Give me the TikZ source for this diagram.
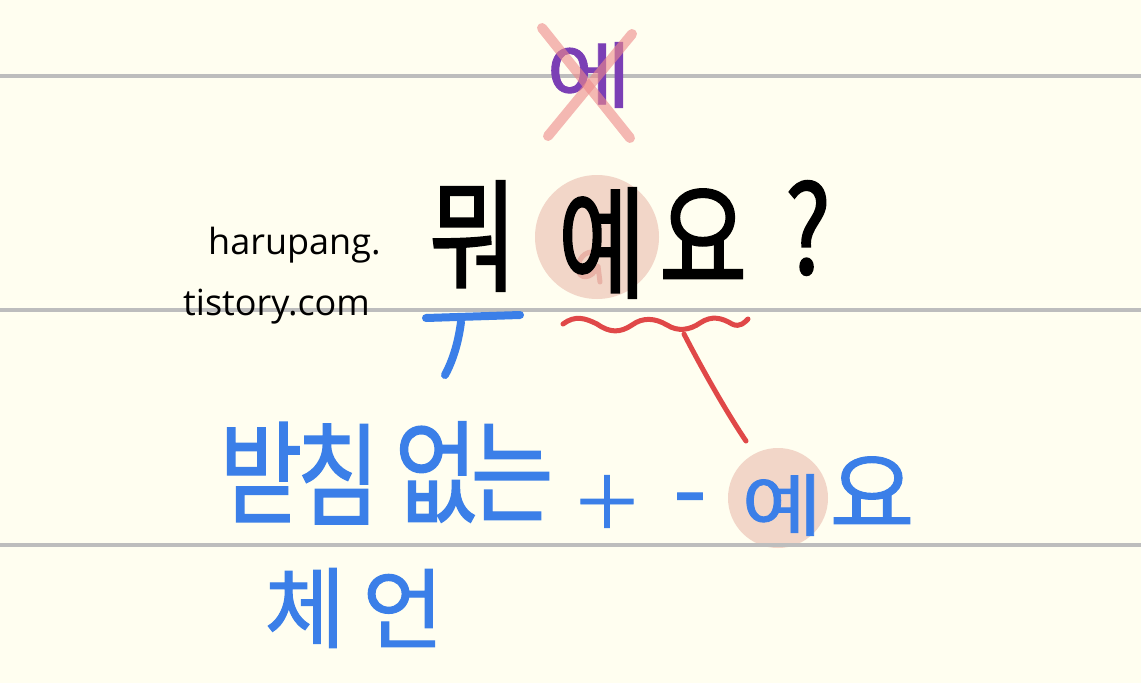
\documentclass[tikz,border=0pt]{standalone}
\usepackage{fontspec}
\newfontfamily\kr[FakeStretch=0.8,FakeBold=1.2]{Noto Sans CJK KR}
\newfontfamily\krn[FakeBold=1.2]{Noto Sans CJK KR}
\newfontfamily\krwide[FakeStretch=1.3,FakeBold=1.2]{Noto Sans CJK KR}
\newfontfamily\krb[FakeStretch=0.78,FakeBold=1.6]{Noto Sans CJK KR}
\newfontfamily\hand{Open Sans}
\definecolor{paper}{HTML}{FFFEF0}
\definecolor{rule}{HTML}{BDBDBD}
\definecolor{inkblue}{HTML}{3B7FE8}
\definecolor{inkred}{HTML}{E04848}
\definecolor{inkpurple}{HTML}{7B3FB5}
\definecolor{blush}{HTML}{F2D6C8}
\definecolor{blushdark}{HTML}{E8B2A6}
\definecolor{crossred}{HTML}{EE8A8A}
\tikzset{
  ruleline/.style={draw=rule,line width=4pt},
  blk/.style={inner sep=0pt,text=black,font=\krb\fontsize{122}{122}\selectfont},
  blu/.style={inner sep=0pt,text=inkblue,font=\kr\fontsize{112}{112}\selectfont},
  bluesm/.style={inner sep=0pt,text=inkblue,font=\krn\fontsize{88}{88}\selectfont},
  pen/.style={line width=#1,line cap=round,line join=round},
}
\begin{document}
\begin{tikzpicture}[x=1pt,y=-1pt]
\useasboundingbox (0,0) rectangle (1141,683);
\fill[paper] (0,0) rectangle (1141,683);
% blush circles
\fill[blush] (597,237) circle (62);
\fill[blush] (778,498) circle (50);
% faint doodle inside the circle
\draw[blushdark,pen=5pt] (598,254) .. controls (590,248) and (578,256) .. (578,268)
  .. controls (578,280) and (592,280) .. (598,266) -- (600,282);
% ruled lines
\draw[ruleline] (0,76) coordinate (r1a) -- (1141,76) coordinate (r1b);
\draw[ruleline] (0,310) coordinate (r2a) -- (1141,310) coordinate (r2b);
\draw[ruleline] (0,545) coordinate (r3a) -- (1141,545) coordinate (r3b);
% crossed out
\node[inner sep=0pt,text=inkpurple,font=\krwide\fontsize{72}{72}\selectfont] (e1) at (589,75) {에};
\draw[crossred,opacity=0.6,pen=10pt] (542,28) coordinate (xa) -- (630,138) coordinate (xb);
\draw[crossred,opacity=0.6,pen=10pt] (632,34) coordinate (xc) -- (548,136) coordinate (xd);
% main phrase
\node[blk] (mwo) at (473,236) {뭐};
\node[blk] (ye) at (602,243) {예};
\node[blk] (yo) at (703,236) {요};
\node[blk] (q) at (808,228) {?};
% watermark
\node[inner sep=0pt,font=\hand\fontsize{36}{36}\selectfont,anchor=west] (w1) at (208,245) {harupang.};
\node[inner sep=0pt,font=\hand\fontsize{36}{36}\selectfont,anchor=west] (w2) at (183,307) {tistory.com};
% blue mark under mwo
\coordinate (u1) at (426,318);
\coordinate (u2) at (520,315);
\coordinate (u3) at (461,322);
\coordinate (u4) at (445,375);
\draw[inkblue,pen=8pt] (u1) -- (u2);
\draw[inkblue,pen=8pt] (u3) .. controls (458,345) and (452,362) .. (u4);
% red wave and connector
\coordinate (w0) at (563,324);
\draw[inkred,pen=5pt] (w0) .. controls (575,315) and (585,318) .. (597,324)
  .. controls (610,333) and (620,333) .. (632,325)
  .. controls (643,317) and (655,318) .. (667,325)
  .. controls (678,332) and (690,330) .. (700,323)
  .. controls (712,315) and (722,318) .. (732,324)
  .. controls (740,328) and (745,322) .. (748,319) coordinate (w1e);
\coordinate (t1) at (684,334);
\coordinate (t2) at (746,441);
\draw[inkred,pen=5pt] (t1) .. controls (700,365) and (725,410) .. (t2);
% blue text
\node[blu] (b1) at (261,472) {받};
\node[blu] (b2) at (338,474) {침};
\node[blu] (b3) at (436,472) {없};
\node[blu] (b4) at (512,472) {는};
\node[bluesm] (c1) at (305,608) {체};
\node[bluesm] (c2) at (403,608) {언};
\node[inner sep=0pt,text=inkblue,font=\krn\fontsize{72}{72}\selectfont] (plus) at (607,502) {＋};
\node[inner sep=0pt,text=inkblue,font=\krn\fontsize{96}{96}\selectfont] (minus) at (690,508) {-};
\node[inner sep=0pt,text=inkblue,font=\krwide\fontsize{68}{68}\selectfont] (e2) at (782,505) {예};
\node[inner sep=0pt,text=inkblue,font=\krn\fontsize{92}{92}\selectfont] (y2) at (872,492) {요};
\end{tikzpicture}
\end{document}
